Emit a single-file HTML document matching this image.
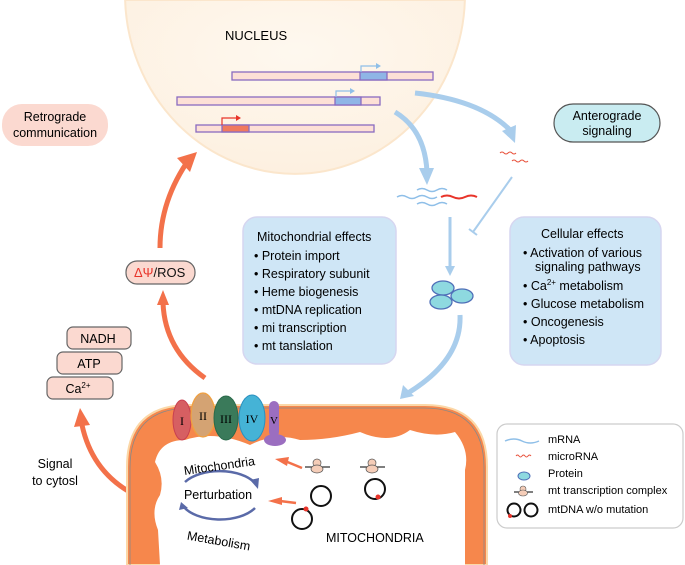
<!DOCTYPE html>
<html><head><meta charset="utf-8"><style>
html,body{margin:0;background:#fff;width:685px;height:565px;overflow:hidden;}
svg{display:block;font-family:"Liberation Sans",sans-serif;}
</style></head><body>
<svg width="685" height="565" viewBox="0 0 685 565" xmlns="http://www.w3.org/2000/svg">
<defs>
<radialGradient id="nuc" cx="0.5" cy="0.3" r="0.7">
<stop offset="0" stop-color="#fef8ef"/><stop offset="1" stop-color="#fdf0e0"/>
</radialGradient>
</defs>
<!-- nucleus -->
<path d="M125.1 0 A170 180 0 0 0 464.9 0 Z" fill="url(#nuc)" stroke="#fbe6cc" stroke-width="2"/>
<text x="225" y="40" font-size="13">NUCLEUS</text>
<!-- DNA bars -->
<rect x="232" y="72" width="201" height="8" fill="#fde0d6" stroke="#8a6bc0" stroke-width="1.3"/>
<rect x="360" y="72" width="27" height="8" fill="#8fb5e6" stroke="#8a6bc0" stroke-width="1.3"/>
<path d="M361 72 V66 H376" stroke="#8fbfe8" stroke-width="1.2" fill="none"/><path d="M376 63 L381 66 L376 69Z" fill="#8fbfe8"/>
<rect x="177" y="97" width="203" height="8" fill="#fde0d6" stroke="#8a6bc0" stroke-width="1.3"/>
<rect x="335" y="97" width="26" height="8" fill="#8fb5e6" stroke="#8a6bc0" stroke-width="1.3"/>
<path d="M336 97 V91 H350" stroke="#8fbfe8" stroke-width="1.2" fill="none"/><path d="M350 88 L355 91 L350 94Z" fill="#8fbfe8"/>
<rect x="196" y="125" width="178" height="7" fill="#fde0d6" stroke="#8a6bc0" stroke-width="1.3"/>
<rect x="222" y="125" width="27" height="7" fill="#f07a5e" stroke="#8a6bc0" stroke-width="1.3"/>
<path d="M222 125 V118 H236" stroke="#e8342a" stroke-width="1.2" fill="none"/><path d="M236 115 L241 118 L236 121Z" fill="#e8342a"/>

<!-- Retrograde -->
<rect x="2" y="104" width="106" height="42" rx="20" fill="#fbd9d0"/>
<text x="55" y="121" font-size="12.5" text-anchor="middle">Retrograde</text>
<text x="55" y="137" font-size="12.5" text-anchor="middle">communication</text>
<!-- Anterograde -->
<rect x="554" y="104" width="106" height="38" rx="19" fill="#c9ecf1" stroke="#555" stroke-width="1.2"/>
<text x="607" y="120" font-size="12.5" text-anchor="middle">Anterograde</text>
<text x="607" y="135" font-size="12.5" text-anchor="middle">signaling</text>

<!-- blue arrows -->
<path d="M395 112 Q425 130 427 172" stroke="#a9cdec" stroke-width="5" fill="none"/>
<path d="M419 168 L427 185 L434 168Z" fill="#a9cdec"/>
<path d="M415 93 Q480 100 510 130" stroke="#a9cdec" stroke-width="5" fill="none"/>
<path d="M502 131 L515 143 L516 125Z" fill="#a9cdec"/>
<path d="M512 177 L473 232" stroke="#a9cdec" stroke-width="2" fill="none"/>
<path d="M469 229 L477 235" stroke="#a9cdec" stroke-width="2"/>
<path d="M450 217 V268" stroke="#a9cdec" stroke-width="3" fill="none"/>
<path d="M445 266 L450 276 L455 266Z" fill="#a9cdec"/>
<path d="M460 315 Q462 360 408 393" stroke="#a9cdec" stroke-width="5" fill="none"/>
<path d="M403 385 L400 399 L414 396Z" fill="#a9cdec"/>
<!-- RNAs -->
<g fill="none" stroke-width="1.5">
<path d="M417 190 q5 -3 10 0 t10 0 t10 0" stroke="#8fbfe8"/>
<path d="M397 197 q5 -3 10 0 t10 0 t10 0 t10 0" stroke="#8fbfe8"/>
<path d="M417 204 q5 -3 10 0 t10 0 t10 0" stroke="#8fbfe8"/>
<path d="M441 197 q6 -3 12 0 t12 0 t12 0" stroke="#e8342a" stroke-width="2"/>
<path d="M500 153 q2 -2 4 0 t4 0 t4 0 t4 0" stroke="#e8503a" stroke-width="1"/>
<path d="M512 161 q2 -2 4 0 t4 0 t4 0 t4 0" stroke="#e8503a" stroke-width="1"/>
</g>
<!-- proteins -->
<g fill="#8ed9e0" stroke="#4f6fb8" stroke-width="1.3">
<ellipse cx="443" cy="288" rx="11" ry="7"/>
<ellipse cx="462" cy="296" rx="11" ry="7"/>
<ellipse cx="441" cy="302" rx="11" ry="7"/>
</g>

<!-- Mitochondrial effects -->
<rect x="243" y="217" width="153" height="147" rx="14" fill="#cfe6f6" stroke="#d6d6f0" stroke-width="1.5"/>
<g font-size="12.5">
<text x="257" y="241">Mitochondrial effects</text>
<text x="254" y="260">• Protein import</text>
<text x="254" y="278">• Respiratory subunit</text>
<text x="254" y="296">• Heme biogenesis</text>
<text x="254" y="314">• mtDNA replication</text>
<text x="254" y="332">• mi transcription</text>
<text x="254" y="350">• mt tanslation</text>
</g>
<!-- Cellular effects -->
<rect x="510" y="217" width="151" height="148" rx="14" fill="#cfe6f6" stroke="#d6d6f0" stroke-width="1.5"/>
<g font-size="12.5">
<text x="541" y="238">Cellular effects</text>
<text x="523" y="257">• Activation of various</text>
<text x="535" y="271">signaling pathways</text>
<text x="523" y="290">• Ca<tspan font-size="8" dy="-5">2+</tspan><tspan dy="5"> metabolism</tspan></text>
<text x="523" y="308">• Glucose metabolism</text>
<text x="523" y="326">• Oncogenesis</text>
<text x="523" y="344">• Apoptosis</text>
</g>

<!-- orange arrows upward -->
<path d="M160 248 Q160 200 190 158" stroke="#f3714a" stroke-width="5" fill="none"/>
<path d="M177 158 L197 152 L190 172Z" fill="#f3714a"/>
<path d="M205 378 Q165 350 163 303" stroke="#f3714a" stroke-width="5" fill="none"/>
<path d="M157 305 L163 290 L169 305Z" fill="#f3714a"/>
<rect x="126" y="261" width="69" height="23" rx="11" fill="#fbd9d0" stroke="#666" stroke-width="1.2"/>
<text x="134" y="277" font-size="13" fill="#e8342a">ΔΨ<tspan fill="#111">/ROS</tspan></text>

<g font-size="12.5" text-anchor="middle">
<rect x="67" y="327" width="64" height="22" rx="6" fill="#fbd9d0" stroke="#666" stroke-width="1.2"/><text x="98" y="343">NADH</text>
<rect x="57" y="352" width="65" height="22" rx="6" fill="#fbd9d0" stroke="#666" stroke-width="1.2"/><text x="89" y="368">ATP</text>
<rect x="47" y="377" width="66" height="22" rx="6" fill="#fbd9d0" stroke="#666" stroke-width="1.2"/><text x="78" y="393">Ca<tspan font-size="8" dy="-5">2+</tspan></text>
</g>
<text x="55" y="468" font-size="12.5" text-anchor="middle">Signal</text>
<text x="55" y="485" font-size="12.5" text-anchor="middle">to cytosl</text>
<path d="M158 504 Q95 485 82 425" stroke="#f3714a" stroke-width="5" fill="none"/>
<path d="M74 427 L80 408 L90 425Z" fill="#f3714a"/>

<!-- mitochondrion -->
<path d="M127 565 V467 Q127 405 189 405 H425 Q487 405 487 467 V565 Z" fill="#f6874c" stroke="#fbd8a8" stroke-width="2"/>
<path d="M130 565 V468 Q130 408 190 408 H424 Q484 408 484 468 V565" fill="none" stroke="#888" stroke-width="0.8"/>
<path d="M160 565 L158 530 Q150 510 160 495 Q165 478 155 462 Q160 440 185 440 Q215 430 250 445 Q275 432 300 440 Q330 440 360 432 Q390 445 410 430 Q435 438 455 432 Q470 450 465 470 L465 565 Z" fill="#fff"/>
<!-- complexes -->
<ellipse cx="182" cy="420" rx="9" ry="20" fill="#d65f62" stroke="#c94050"/>
<text x="182" y="425" font-size="12" text-anchor="middle" font-family="Liberation Serif">I</text>
<ellipse cx="203" cy="415" rx="12" ry="22" fill="#d4a373" stroke="#f0a040" stroke-width="1.3"/>
<text x="203" y="420" font-size="12" text-anchor="middle" font-family="Liberation Serif">II</text>
<ellipse cx="226" cy="418" rx="12" ry="22" fill="#3a7a5a" stroke="#2a6a4a"/>
<text x="226" y="423" font-size="12" text-anchor="middle" font-family="Liberation Serif">III</text>
<ellipse cx="252" cy="418" rx="13" ry="23" fill="#45b3d6" stroke="#2a90c0"/>
<text x="252" y="423" font-size="12" text-anchor="middle" font-family="Liberation Serif">IV</text>
<rect x="269" y="401" width="10" height="36" rx="5" fill="#9b6ec0"/>
<ellipse cx="275" cy="440" rx="11" ry="6" fill="#9b6ec0"/>
<text x="274" y="424" font-size="11" text-anchor="middle" font-family="Liberation Serif">V</text>
<!-- cycle -->
<path d="M185 482 A40 22 0 0 1 255 483" stroke="#5a6aa8" stroke-width="2.5" fill="none"/>
<path d="M250 480 L258 489 L259 478Z" fill="#5a6aa8"/>
<path d="M255 508 A40 22 0 0 1 183 506" stroke="#5a6aa8" stroke-width="2.5" fill="none"/>
<path d="M179 510 L181 502 L188 508Z" fill="#5a6aa8"/>
<text x="218" y="499" font-size="12.5" text-anchor="middle">Perturbation</text>
<text x="220" y="470" font-size="12.5" text-anchor="middle" transform="rotate(-8 220 470)">Mitochondria</text>
<text x="218" y="545" font-size="12.5" text-anchor="middle" transform="rotate(10 218 545)">Metabolism</text>
<!-- small orange arrows -->
<path d="M302 468 L285 461" stroke="#f3714a" stroke-width="2.5"/><path d="M289 457 L275 459 L287 466Z" fill="#f3714a"/>
<path d="M296 503 L280 501" stroke="#f3714a" stroke-width="2.5"/><path d="M282 497 L268 501 L282 505Z" fill="#f3714a"/>
<!-- transcription complexes -->
<g><path d="M305 467 H330" stroke="#333" stroke-width="1.2"/><circle cx="317" cy="463" r="4" fill="#f5cdb8" stroke="#555" stroke-width="0.7"/><ellipse cx="317" cy="469" rx="6" ry="4" fill="#f5cdb8" stroke="#555" stroke-width="0.7"/></g>
<g><path d="M360 467 H385" stroke="#333" stroke-width="1.2"/><circle cx="372" cy="463" r="4" fill="#f5cdb8" stroke="#555" stroke-width="0.7"/><ellipse cx="372" cy="469" rx="6" ry="4" fill="#f5cdb8" stroke="#555" stroke-width="0.7"/></g>
<g fill="none" stroke="#111" stroke-width="2">
<circle cx="321" cy="496" r="10"/><circle cx="302" cy="519" r="10"/><circle cx="375" cy="489" r="10"/>
</g>
<circle cx="306" cy="509" r="2.5" fill="#e8342a"/><circle cx="378" cy="497" r="2.5" fill="#e8342a"/>
<text x="326" y="542" font-size="12.5">MITOCHONDRIA</text>

<!-- legend -->
<rect x="497" y="424" width="186" height="104" rx="10" fill="#fff" stroke="#ccc" stroke-width="1.2"/>
<path d="M505 441 q9 -4 17 0 t17 0" stroke="#8fbfe8" stroke-width="1.5" fill="none"/>
<path d="M516 456 q1.5 -2 3 0 t3 0 t3 0 t3 0 t3 0" stroke="#e8503a" stroke-width="1" fill="none"/>
<ellipse cx="524" cy="476" rx="6" ry="4" fill="#8ed9e0" stroke="#4f6fb8"/>
<path d="M514 492 H533" stroke="#333" stroke-width="1.2"/><circle cx="523" cy="489" r="3" fill="#f5cdb8" stroke="#555" stroke-width="0.6"/><ellipse cx="523" cy="493" rx="4.5" ry="3" fill="#f5cdb8" stroke="#555" stroke-width="0.6"/>
<circle cx="514" cy="510" r="6.5" fill="none" stroke="#111" stroke-width="2"/><circle cx="531" cy="510" r="6.5" fill="none" stroke="#111" stroke-width="2"/>
<circle cx="510" cy="516" r="2" fill="#e8342a"/>
<g font-size="11">
<text x="548" y="443">mRNA</text><text x="548" y="460">microRNA</text><text x="548" y="477">Protein</text>
<text x="548" y="494">mt transcription complex</text><text x="548" y="513">mtDNA w/o mutation</text>
</g>
</svg>
</body></html>
